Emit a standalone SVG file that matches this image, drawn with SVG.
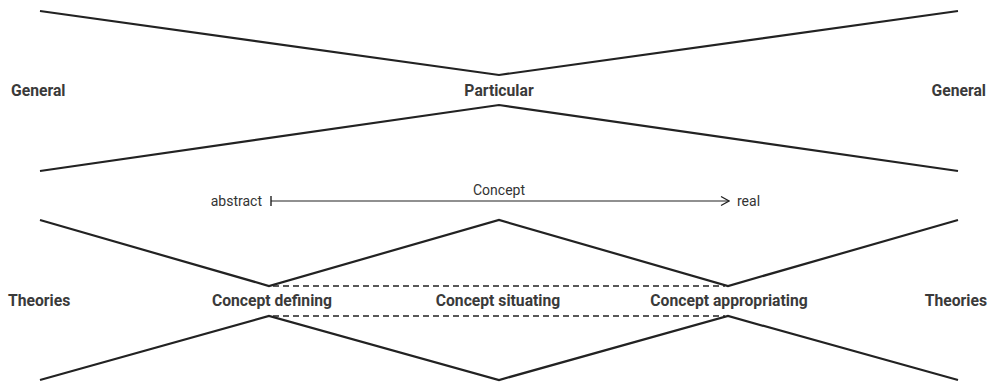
<svg xmlns="http://www.w3.org/2000/svg" width="992" height="382" viewBox="0 0 992 382">
  <defs>
    <style>
      .edge { fill: none; stroke: #222; stroke-width: 2.2; stroke-linejoin: miter; }
      .dash { fill: none; stroke: #222; stroke-width: 1.3; stroke-dasharray: 6 4; }
      .axis { fill: none; stroke: #222; stroke-width: 1.2; }
      .lbl { font-family: Roboto, "Liberation Sans", sans-serif; font-size: 15.7px; font-weight: bold; fill: #3a3a3a; }
      .small { font-family: Roboto, "Liberation Sans", sans-serif; font-size: 14px; fill: #333; }
    </style>
    <marker id="open-arrow" viewBox="0 0 10 10" refX="9" refY="5" markerWidth="10" markerHeight="10" markerUnits="userSpaceOnUse" orient="auto">
      <path d="M1 0.5 L9 5 L1 9.5" fill="none" stroke="#222" stroke-width="1.2"/>
    </marker>
    <marker id="bar" viewBox="0 0 4 10" refX="2" refY="5" markerWidth="4" markerHeight="10" markerUnits="userSpaceOnUse" orient="auto">
      <path d="M2 0 L2 10" stroke="#222" stroke-width="1.4"/>
    </marker>
  </defs>

  <!-- outline strokes -->
  <g id="connectors">
    <polyline class="edge" points="40,11 499,75 958,11"/>
    <polyline class="edge" points="40,171 499,105 958,171"/>
    <polyline class="edge" points="40,220 269,286 499,220 728,286 958,220"/>
    <polyline class="edge" points="40,380 269,316 499,380 728,316 958,380"/>
    <line class="dash" x1="273" y1="286" x2="725" y2="286"/>
    <line class="dash" x1="273" y1="316" x2="725" y2="316"/>
    <line class="axis" x1="271" y1="201" x2="729" y2="201" marker-start="url(#bar)" marker-end="url(#open-arrow)"/>
  </g>

  <g id="general-left"><text class="lbl" x="11" y="96">General</text></g>
  <g id="particular"><text class="lbl" x="499" y="96" text-anchor="middle">Particular</text></g>
  <g id="general-right"><text class="lbl" x="986" y="96" text-anchor="end">General</text></g>

  <g id="axis-labels">
    <text class="small" x="262" y="206" text-anchor="end">abstract</text>
    <text class="small" x="499" y="195" text-anchor="middle">Concept</text>
    <text class="small" x="737" y="206">real</text>
  </g>

  <g id="theories-left"><text class="lbl" x="8" y="306">Theories</text></g>
  <g id="concept-defining"><text class="lbl" x="272" y="306" text-anchor="middle">Concept defining</text></g>
  <g id="concept-situating"><text class="lbl" x="498" y="306" text-anchor="middle">Concept situating</text></g>
  <g id="concept-appropriating"><text class="lbl" x="729" y="306" text-anchor="middle">Concept appropriating</text></g>
  <g id="theories-right"><text class="lbl" x="987" y="306" text-anchor="end">Theories</text></g>
</svg>
